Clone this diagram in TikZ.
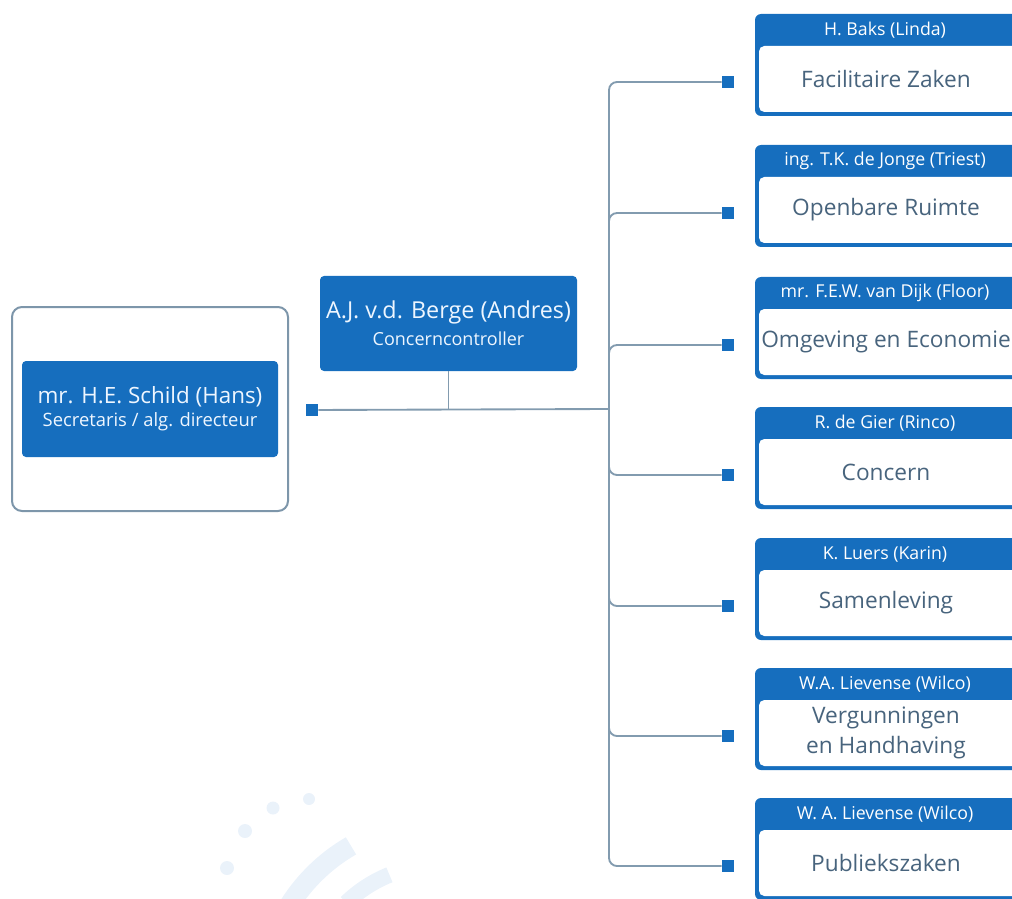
\documentclass[tikz,border=0pt]{standalone}
\usepackage{fontspec}
\setmainfont{Open Sans}
\definecolor{cblue}{RGB}{22,110,190}
\definecolor{cline}{RGB}{130,155,175}
\definecolor{ctext}{RGB}{72,100,125}
\definecolor{cframe}{RGB}{125,150,170}
\definecolor{cwhite}{RGB}{238,246,255}
\definecolor{cwater}{RGB}{234,242,250}
\tikzset{
  bluebox/.style={fill=cblue, rounded corners=3pt, text=cwhite, align=center, inner sep=0pt},
  sq/.style={fill=cblue, minimum size=9pt, inner sep=0pt},
  conn/.style={draw=cline, line width=1.4pt, rounded corners=6pt},
  rbox/.style={fill=cblue, rounded corners=4.5pt, minimum width=276*0.75pt, minimum height=102*0.75pt, inner sep=0pt},
  htext/.style={text=white, font=\fontsize{13.3}{15}\selectfont, inner sep=0pt},
  mtext/.style={text=ctext, font=\fontsize{17}{22.5}\selectfont, align=center, inner sep=0pt},
}
\begin{document}
\begin{tikzpicture}[x=0.75pt,y=-0.75pt]
\useasboundingbox (0,0) rectangle (1012,898);
\clip (0,0) rectangle (1012,898);
% faint watermark
\fill[cwater] (227,868) circle (7);
\fill[cwater] (245,831) circle (7);
\fill[cwater] (273,808) circle (6.5);
\fill[cwater] (309,799) circle (6);
\draw[cwater, line width=15pt] (440,1000) ++(210:178) arc (210:240:178);
\draw[cwater, line width=12pt] (440,1000) ++(226:135) arc (226:248:135);
% left frame
\node[draw=cframe, line width=1.5pt, rounded corners=7.5pt, fill=white, minimum width=276*0.75pt, minimum height=204*0.75pt] (frame) at (150,409) {};
\node[bluebox, minimum width=256*0.75pt, minimum height=96*0.75pt] (hans) at (150,409)
  {{\fontsize{16.8}{20}\selectfont mr. H.E. Schild (Hans)}\\[3pt]{\fontsize{13.8}{16}\selectfont Secretaris / alg. directeur}};
\node[bluebox, minimum width=257*0.75pt, minimum height=95*0.75pt] (andres) at (448.5,323.5)
  {{\fontsize{17.5}{21}\selectfont A.J. v.d. Berge (Andres)}\\[4.5pt]{\fontsize{13.5}{16}\selectfont Concerncontroller}};
\node[sq] (sq0) at (312,410) {};
\coordinate (junc) at (609,409);
\draw[conn] (sq0) -- (junc);
\draw[conn] (andres.south) -- (andres.south |- junc);
% right boxes
\foreach \i/\t/\h/\m in {
  1/14/{H. Baks (Linda)}/{Facilitaire Zaken},
  2/145/{ing. T.K. de Jonge (Triest)}/{Openbare Ruimte},
  3/277/{mr. F.E.W. van Dijk (Floor)}/{Omgeving en Economie},
  4/407/{R. de Gier (Rinco)}/{Concern},
  5/538/{K. Luers (Karin)}/{Samenleving},
  6/668/{W.A. Lievense (Wilco)}/{Vergunningen\\en Handhaving},
  7/798/{W. A. Lievense (Wilco)}/{Publiekszaken}} {
  \node[rbox] (box\i) at (893,\t+51) {};
  \fill[white, rounded corners=4pt] (759,\t+32) rectangle (1040,\t+98);
  \node[htext] (head\i) at (885,\t+16) {\h};
  \node[mtext] (main\i) at (886,\t+65) {\m};
  \node[sq] (sq\i) at (728,\t+68) {};
  \draw[conn] (junc) |- (sq\i);
}
\end{tikzpicture}
\end{document}
